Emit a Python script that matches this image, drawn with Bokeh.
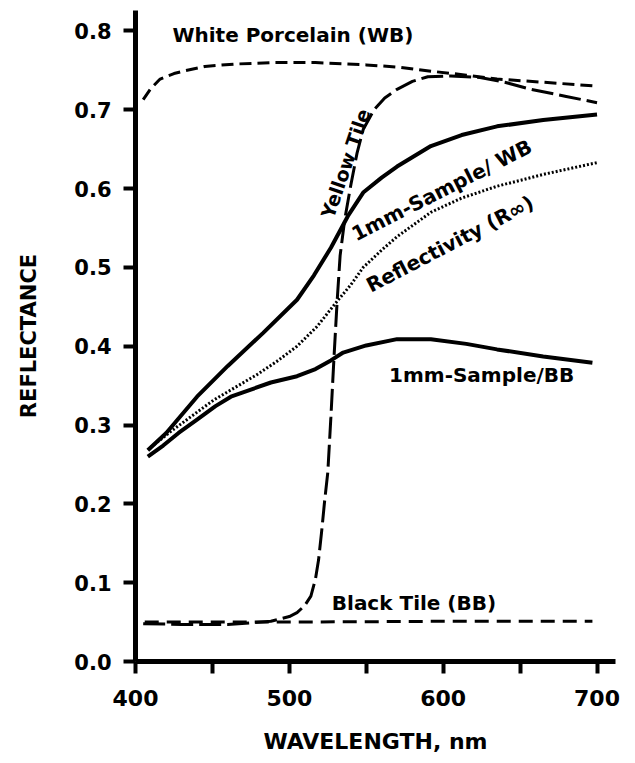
from bokeh.plotting import figure
from bokeh.models import Range1d, FixedTicker, PrintfTickFormatter
from bokeh.core.properties import value
from bokeh.embed import file_html
from bokeh.resources import INLINE

# ---- data ----
wl_wb = [405, 410, 416, 425, 431, 445, 464, 490, 517, 550, 572, 592, 615, 635, 665, 700]
white_porcelain = [0.713, 0.727, 0.739, 0.746, 0.749, 0.755, 0.758, 0.760, 0.760, 0.757, 0.754, 0.749, 0.744, 0.739, 0.735, 0.730]

wl_yellow = [405, 430, 460, 488, 500, 505, 510, 514, 517, 519, 521, 523, 525, 527, 529, 531, 533,
             536, 540, 544, 548, 555, 562, 570, 580, 590, 605, 624, 640, 657, 680, 700]
yellow_tile = [0.048, 0.047, 0.047, 0.051, 0.057, 0.062, 0.071, 0.083, 0.105, 0.129, 0.165, 0.205, 0.240,
               0.310, 0.385, 0.455, 0.515, 0.561, 0.605, 0.645, 0.675, 0.700, 0.715, 0.726, 0.736, 0.742,
               0.743, 0.741, 0.735, 0.726, 0.717, 0.709]

wl_black = [406, 500, 600, 697]
black_tile = [0.050, 0.050, 0.051, 0.051]

wl_swb = [408, 420, 440, 460, 483, 505, 516, 527, 538, 548, 560, 570, 592, 612, 635, 665, 700]
sample_wb = [0.268, 0.290, 0.336, 0.375, 0.417, 0.459, 0.490, 0.525, 0.565, 0.595, 0.614, 0.628,
             0.654, 0.668, 0.679, 0.687, 0.694]

wl_refl = [410, 423, 437, 451, 465, 479, 492, 505, 518, 531, 540, 548, 560, 570, 592, 612, 635, 665, 700]
reflectivity = [0.272, 0.292, 0.312, 0.332, 0.348, 0.364, 0.381, 0.400, 0.425, 0.457, 0.478, 0.500,
                0.522, 0.539, 0.570, 0.588, 0.603, 0.618, 0.633]

wl_sbb = [408, 418, 428, 440, 452, 462, 475, 488, 505, 517, 527, 535, 550, 570, 592, 615, 635, 665, 697]
sample_bb = [0.260, 0.274, 0.290, 0.307, 0.324, 0.336, 0.345, 0.354, 0.362, 0.371, 0.382, 0.392,
             0.401, 0.409, 0.409, 0.403, 0.396, 0.387, 0.379]

x_major = [400, 500, 600, 700]
x_minor = [450, 550, 650]
y_ticks = [0.0, 0.1, 0.2, 0.3, 0.4, 0.5, 0.6, 0.7, 0.8]

FONT = "DejaVu Sans"

p = figure(width=623, height=763, output_backend="svg", toolbar_location=None,
           x_range=Range1d(400, 712), y_range=Range1d(0, 0.826),
           min_border_left=135, min_border_right=8, min_border_top=10, min_border_bottom=102)
p.outline_line_color = None
p.grid.visible = False
p.background_fill_color = "white"
p.border_fill_color = "white"

for ax in (p.xaxis[0], p.yaxis[0]):
    ax.axis_line_width = 5
    ax.axis_line_color = "black"
    ax.major_tick_line_width = 4
    ax.major_tick_line_color = "black"
    ax.major_tick_in = 0
    ax.major_tick_out = 12
    ax.minor_tick_line_width = 4
    ax.minor_tick_line_color = "black"
    ax.minor_tick_in = 0
    ax.minor_tick_out = 12
    ax.major_label_text_font = FONT
    ax.major_label_text_font_style = "bold"
    ax.major_label_text_color = "black"
    ax.axis_label_text_font = FONT
    ax.axis_label_text_font_style = "bold"
    ax.axis_label_text_color = "black"

p.xaxis.ticker = FixedTicker(ticks=x_major, minor_ticks=x_minor)
p.xaxis.major_label_text_font_size = "22px"
p.xaxis.major_label_standoff = 16
p.xaxis.axis_label = "WAVELENGTH, nm"
p.xaxis.axis_label_text_font_size = "22px"
p.xaxis.axis_label_standoff = 20

p.yaxis.ticker = FixedTicker(ticks=y_ticks, minor_ticks=[])
p.yaxis.formatter = PrintfTickFormatter(format="%.1f")
p.yaxis.major_label_text_font_size = "21px"
p.yaxis.major_label_standoff = 12
p.yaxis.axis_label = "REFLECTANCE"
p.yaxis.axis_label_text_font_size = "21px"
p.yaxis.axis_label_standoff = 30

# curves
p.line(wl_wb, white_porcelain, line_color="black", line_width=3, line_dash="12 6")
p.line(wl_black, black_tile, line_color="black", line_width=3, line_dash="14 8")
p.line(wl_yellow, yellow_tile, line_color="black", line_width=3, line_dash="22 6")
p.line(wl_swb, sample_wb, line_color="black", line_width=4)
p.line(wl_refl, reflectivity, line_color="black", line_width=3, line_dash="2 2")
p.line(wl_sbb, sample_bb, line_color="black", line_width=4)

# annotations
p.text(x=[424], y=[0.795], text=["White Porcelain (WB)"], text_font=value(FONT), text_font_style="bold",
       text_font_size="20px", text_align="left", text_baseline="middle", text_color="black")
p.text(x=[536.5], y=[0.632], text=["Yellow Tile"], angle=1.24, text_font=value(FONT), text_font_style="bold",
       text_font_size="19px", text_align="center", text_baseline="middle", text_color="black")
p.text(x=[599], y=[0.598], text=["1mm-Sample/ WB"], angle=0.47, text_font=value(FONT), text_font_style="bold",
       text_font_size="20px", text_align="center", text_baseline="middle", text_color="black")
p.text(x=[604.5], y=[0.530], text=["Reflectivity (R\u221e)"], angle=0.48, text_font=value(FONT),
       text_font_style="bold", text_font_size="20px", text_align="center", text_baseline="middle",
       text_color="black")
p.text(x=[625], y=[0.364], text=["1mm-Sample/BB"], text_font=value(FONT), text_font_style="bold",
       text_font_size="20px", text_align="center", text_baseline="middle", text_color="black")
p.text(x=[581], y=[0.074], text=["Black Tile (BB)"], text_font=value(FONT), text_font_style="bold",
       text_font_size="20px", text_align="center", text_baseline="middle", text_color="black")

open("out.html", "w").write(file_html(p, INLINE))
